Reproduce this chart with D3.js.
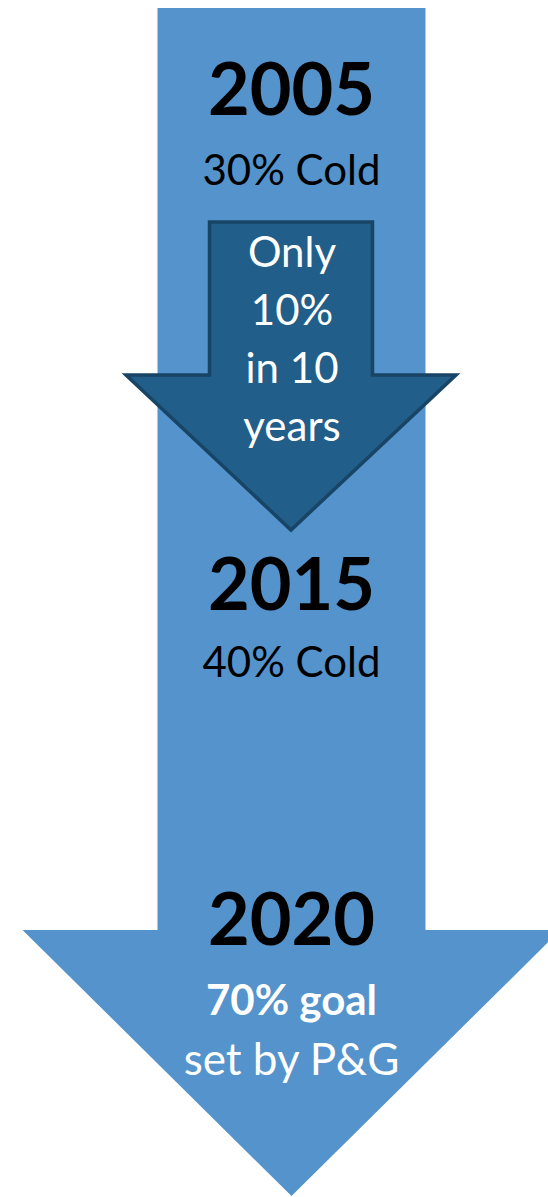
<!DOCTYPE html>
<html>
<head>
<meta charset="utf-8">
<script src="https://cdn.jsdelivr.net/npm/d3@7"></script>
<style>
	html, body { margin: 0; padding: 0; background: #fff; }
	svg { display: block; }
	text { font-family: Lato, "Open Sans", sans-serif; }
</style>
</head>
<body>
<svg id="svg_arrow" width="548" height="1197"></svg>
<script>
// milestones
var years = ["2005", "2015", "2020"];
var shares = ["30% Cold", "40% Cold", "70% goal"];
var notes = ["", "", "set by P&G"];
var innerLines = ["Only", "10%", "in 10", "years"];

var svg = d3.select("#svg_arrow"),
	width = +svg.attr("width"),
	height = +svg.attr("height");

// layout scale: 0..1 along the big arrow
var x = d3.scaleLinear().domain([0, 1]).range([0, width]);
var y = d3.scaleLinear().domain([0, 1]).range([0, height]);

var line = d3.line().x(function(d) { return d[0]; }).y(function(d) { return d[1]; });

function arrowPts(cx, top, shaftW, headY, headW, tipY) {
	return [
		[cx - shaftW / 2, top], [cx + shaftW / 2, top],
		[cx + shaftW / 2, headY], [cx + headW / 2, headY],
		[cx, tipY],
		[cx - headW / 2, headY], [cx - shaftW / 2, headY]
	];
}

var cx = 291.5;

// big arrow
svg.append("path")
	.attr("d", line(arrowPts(cx, y(8 / 1197), x(268 / 548), y(930 / 1197), x(538 / 548), y(1196 / 1197))) + "Z")
	.attr("fill", "#5493cb");

// small arrow
svg.append("path")
	.attr("d", line(arrowPts(291, 222, 163, 375, 330, 530)) + "Z")
	.attr("fill", "#215e8a")
	.attr("stroke", "#184565")
	.attr("stroke-width", 3.5)
	.attr("stroke-linejoin", "miter");

var yearY = [115, 610, 945];
var shareY = [185, 677, 1015];

var g = svg.append("g").attr("text-anchor", "middle");

g.selectAll("text.year").data(years).enter().append("text")
	.attr("class", "year")
	.attr("x", cx)
	.attr("y", function(d, i) { return yearY[i]; })
	.attr("font-size", 72)
	.attr("font-weight", "bold")
	.attr("fill", "#000")
	.text(function(d) { return d; });

g.selectAll("text.share").data(shares).enter().append("text")
	.attr("class", "share")
	.attr("x", cx)
	.attr("y", function(d, i) { return shareY[i]; })
	.attr("font-size", 42)
	.attr("font-weight", function(d, i) { return i == 2 ? "bold" : "normal"; })
	.attr("fill", function(d, i) { return i == 2 ? "#fff" : "#000"; })
	.text(function(d) { return d; });

g.append("text")
	.attr("x", cx)
	.attr("y", 1075)
	.attr("font-size", 44)
	.attr("fill", "#fff")
	.text(notes[2]);

g.selectAll("text.inner").data(innerLines).enter().append("text")
	.attr("class", "inner")
	.attr("x", 292)
	.attr("y", function(d, i) { return 267 + i * 58; })
	.attr("font-size", 42)
	.attr("fill", "#fff")
	.text(function(d) { return d; });
</script>
</body>
</html>
